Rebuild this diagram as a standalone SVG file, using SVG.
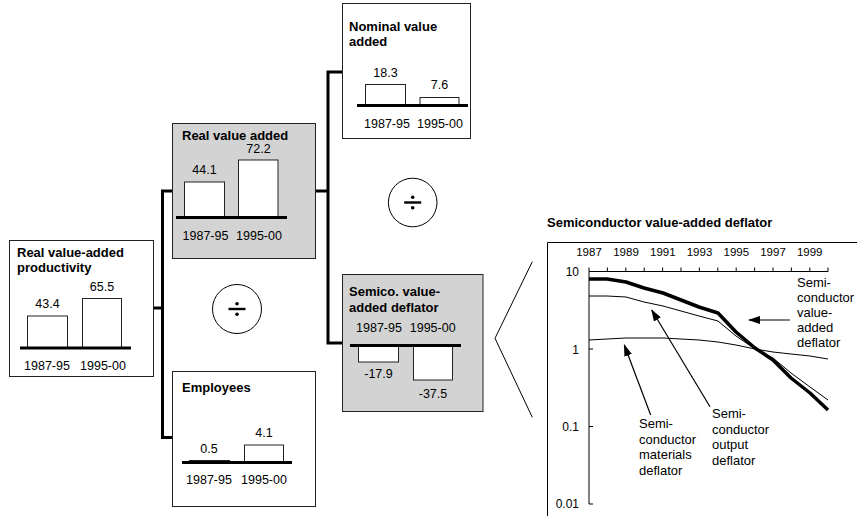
<svg xmlns="http://www.w3.org/2000/svg" width="857" height="516" viewBox="0 0 857 516">
  <style>
    text { font-family: "Liberation Sans", Arial, sans-serif; fill: #000; }
    .title { font-size: 13px; font-weight: bold; }
    .num { font-size: 12.5px; text-anchor: middle; }
    .box { fill: #fff; stroke: #222; stroke-width: 1; }
    .box.grey { fill: #d3d3d3; }
    .bar { fill: #fff; stroke: #222; stroke-width: 1; }
    .axis { stroke: #000; stroke-width: 3; fill: none; }
    .conn { stroke: #000; stroke-width: 3; fill: none; }
    .op { fill: #fff; stroke: #000; stroke-width: 1; }
    .thin { stroke: #000; stroke-width: 1; fill: none; }
    .thick { stroke: #000; stroke-width: 3.5; fill: none; stroke-linejoin: round; }
    .ptr { stroke: #000; stroke-width: 1.2; fill: none; marker-end: url(#head); }
    .yr { font-size: 11.5px; text-anchor: middle; }
    .ylab { font-size: 12px; text-anchor: end; }
    .note { font-size: 13px; }
  </style>
  <defs>
    <marker id="head" viewBox="0 0 12 8" refX="11" refY="4" markerWidth="12" markerHeight="8" markerUnits="userSpaceOnUse" orient="auto">
      <path d="M0,0 L12,4 L0,8 Z" fill="#000"/>
    </marker>
    <g id="divide">
      <rect x="-8.5" y="-1.2" width="17" height="2.4" fill="#000"/>
      <circle cx="0" cy="-5.3" r="1.8" fill="#000"/>
      <circle cx="0" cy="5.3" r="1.8" fill="#000"/>
    </g>
  </defs>

  <!-- tree connectors -->
  <g id="connectors">
    <path class="conn" d="M153,308 H162.5"/>
    <path class="conn" d="M172,191 H162.5 V437.5 H172"/>
    <path class="conn" d="M315,191 H328"/>
    <path class="conn" d="M342,72 H328 V343 H342"/>
  </g>

  <!-- productivity -->
  <g id="productivity">
    <rect class="box" x="9.5" y="240.5" width="144" height="136"/>
    <text class="title" x="17" y="256.5">Real value-added</text>
    <text class="title" x="17" y="271.5">productivity</text>
    <rect class="bar" x="27.5" y="316" width="40" height="32"/>
    <rect class="bar" x="82.5" y="298.5" width="39" height="49.5"/>
    <line class="axis" x1="20" y1="348" x2="131" y2="348"/>
    <text class="num" x="47.5" y="308">43.4</text>
    <text class="num" x="102" y="291">65.5</text>
    <text class="num" x="47" y="370">1987-95</text>
    <text class="num" x="103" y="370">1995-00</text>
  </g>

  <!-- real value added -->
  <g id="real-value-added">
    <rect class="box grey" x="172.5" y="123.5" width="143" height="135"/>
    <text class="title" x="182" y="139.5">Real value added</text>
    <rect class="bar" x="184.5" y="182" width="40" height="35.5"/>
    <rect class="bar" x="238.5" y="160" width="39.5" height="57.5"/>
    <line class="axis" x1="176" y1="217.5" x2="287" y2="217.5"/>
    <text class="num" x="204.5" y="174">44.1</text>
    <text class="num" x="258.5" y="153">72.2</text>
    <text class="num" x="205.5" y="240">1987-95</text>
    <text class="num" x="259" y="240">1995-00</text>
  </g>

  <!-- employees -->
  <g id="employees">
    <rect class="box" x="172.5" y="371.5" width="143" height="135"/>
    <text class="title" x="182" y="392">Employees</text>
    <rect class="bar" x="189.5" y="460.5" width="40" height="2"/>
    <rect class="bar" x="244.5" y="445" width="39" height="17.5"/>
    <line class="axis" x1="182" y1="462.5" x2="292" y2="462.5"/>
    <text class="num" x="209" y="453">0.5</text>
    <text class="num" x="264" y="437">4.1</text>
    <text class="num" x="209" y="484">1987-95</text>
    <text class="num" x="264" y="484">1995-00</text>
  </g>

  <!-- nominal value added -->
  <g id="nominal-value-added">
    <rect class="box" x="342.5" y="3.5" width="128" height="135"/>
    <text class="title" x="349" y="31">Nominal value</text>
    <text class="title" x="349" y="46">added</text>
    <rect class="bar" x="365.5" y="84.5" width="40" height="21"/>
    <rect class="bar" x="420" y="97.5" width="39" height="8"/>
    <line class="axis" x1="357" y1="105.5" x2="468" y2="105.5"/>
    <text class="num" x="385.5" y="77">18.3</text>
    <text class="num" x="439.5" y="89">7.6</text>
    <text class="num" x="387" y="128">1987-95</text>
    <text class="num" x="440" y="128">1995-00</text>
  </g>

  <!-- value-added deflator -->
  <g id="deflator">
    <rect class="box grey" x="342.5" y="274.5" width="140.5" height="137"/>
    <text class="title" x="349" y="296">Semico. value-</text>
    <text class="title" x="349" y="311.5">added deflator</text>
    <text class="num" x="379" y="332">1987-95</text>
    <text class="num" x="432.7" y="332">1995-00</text>
    <rect class="bar" x="358.5" y="345.5" width="40" height="16.5"/>
    <rect class="bar" x="413.5" y="345.5" width="39" height="34.5"/>
    <line class="axis" x1="350" y1="345.5" x2="461" y2="345.5"/>
    <text class="num" x="378.5" y="378">-17.9</text>
    <text class="num" x="433" y="398">-37.5</text>
  </g>

  <!-- division operators -->
  <g id="divide-left">
    <circle class="op" cx="237" cy="309" r="24.5"/>
    <use href="#divide" x="237" y="309"/>
  </g>
  <g id="divide-right">
    <circle class="op" cx="412.7" cy="202.5" r="24.3"/>
    <use href="#divide" x="412.7" y="202.5"/>
  </g>

  <!-- magnifier wedge -->
  <polyline id="wedge" class="thin" points="532.3,261.7 495,338.3 532.3,417.3"/>

  <!-- deflator chart -->
  <g id="chart">
    <text class="title" x="547" y="227">Semiconductor value-added deflator</text>
    <path class="thin" d="M547.5,516 V242.5 H857"/>

    <g id="x-axis">
      <line class="thin" x1="589" y1="271.5" x2="828" y2="271.5"/>
      <path class="thin" d="M589,267.5 v4 M607.4,267.5 v4 M625.8,267.5 v4 M644.2,267.5 v4 M662.6,267.5 v4 M681,267.5 v4 M699.4,267.5 v4 M717.8,267.5 v4 M736.2,267.5 v4 M754.6,267.5 v4 M773,267.5 v4 M791.4,267.5 v4 M809.8,267.5 v4 M828,267.5 v4"/>
      <text class="yr" x="589" y="256">1987</text>
      <text class="yr" x="626" y="256">1989</text>
      <text class="yr" x="662.8" y="256">1991</text>
      <text class="yr" x="699.5" y="256">1993</text>
      <text class="yr" x="736.3" y="256">1995</text>
      <text class="yr" x="773" y="256">1997</text>
      <text class="yr" x="809.7" y="256">1999</text>
    </g>

    <g id="y-axis">
      <line class="thin" x1="589" y1="271.5" x2="589" y2="504"/>
      <path class="thin" d="M589,349 h4 M589,426.5 h4 M589,504 h4"/>
      <text class="ylab" x="579" y="276">10</text>
      <text class="ylab" x="579" y="353.5">1</text>
      <text class="ylab" x="579" y="431">0.1</text>
      <text class="ylab" x="579" y="508">0.01</text>
    </g>

    <g id="series">
      <polyline class="thin" points="589,340 607,339 626,338 644,338 663,338 681,339 699,340 718,342 736,345 755,349 773,352 791,354 810,356 828,359"/>
      <polyline class="thin" points="589,296 607,296 626,297 644,302 663,306 681,311 699,316 718,321 736,336 755,349 773,358 791,373 810,387 828,400"/>
      <polyline class="thick" points="589,279 607,279 626,282 644,288 663,293 681,300 699,307 718,313 736,332 755,348 773,360 791,378 810,393 828,410"/>
    </g>

    <g id="annotations">
      <line class="ptr" x1="790" y1="320" x2="749" y2="320"/>
      <line class="ptr" x1="710" y1="406.7" x2="651.7" y2="310"/>
      <line class="ptr" x1="650.7" y1="415" x2="624.3" y2="345"/>
      <text class="note" x="797" y="286.5">Semi-</text>
      <text class="note" x="797" y="301.5">conductor</text>
      <text class="note" x="797" y="316.5">value-</text>
      <text class="note" x="797" y="331.5">added</text>
      <text class="note" x="797" y="346.5">deflator</text>
      <text class="note" x="712" y="418">Semi-</text>
      <text class="note" x="712" y="433.5">conductor</text>
      <text class="note" x="712" y="449">output</text>
      <text class="note" x="712" y="464.5">deflator</text>
      <text class="note" x="639" y="428">Semi-</text>
      <text class="note" x="639" y="443.5">conductor</text>
      <text class="note" x="639" y="459">materials</text>
      <text class="note" x="639" y="474.5">deflator</text>
    </g>
  </g>
</svg>
